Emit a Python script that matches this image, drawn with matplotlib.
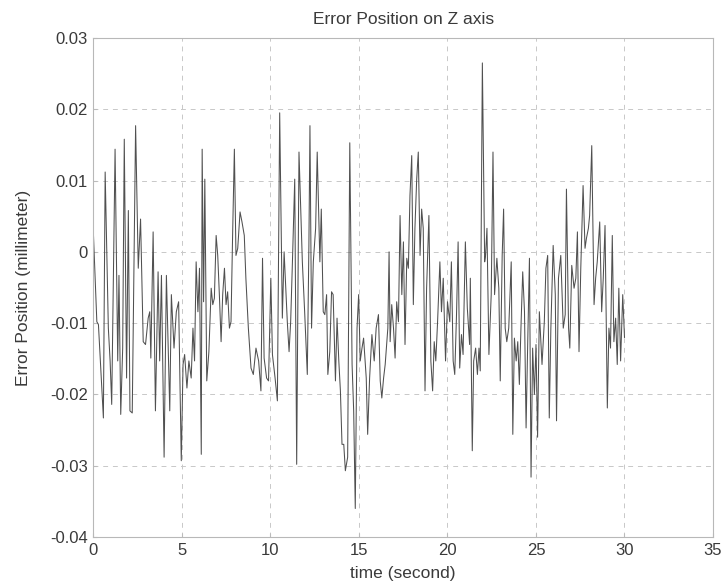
import numpy as np
import matplotlib
matplotlib.use("Agg")
import matplotlib.pyplot as plt

# time (s) and error (x 1e-3 mm)
t_sec = [
    0.00, 0.19, 0.28, 0.56, 0.66, 0.84, 0.94, 1.03, 1.22, 1.37, 1.44, 1.54, 1.65, 1.74, 1.87, 1.97,
    2.06, 2.19, 2.38, 2.53, 2.66, 2.81, 2.94, 3.09, 3.18, 3.24, 3.37, 3.50, 3.65, 3.74, 3.84, 3.99,
    4.12, 4.31, 4.40, 4.55, 4.68, 4.81, 4.96,
    5.06, 5.15, 5.28, 5.39, 5.52, 5.62, 5.71, 5.80, 5.90, 5.99, 6.09, 6.14, 6.22, 6.29, 6.40, 6.52,
    6.65, 6.74, 6.83, 6.93, 7.02, 7.12, 7.21, 7.30, 7.40, 7.49, 7.58, 7.68, 7.77, 7.86, 7.96, 8.05,
    8.15, 8.28, 8.39, 8.52, 8.61, 8.75, 8.90, 9.03, 9.18, 9.33, 9.46, 9.55, 9.64, 9.78, 9.89, 10.02,
    10.11, 10.26, 10.39, 10.52,
    10.67, 10.77, 10.95, 11.05, 11.14, 11.24, 11.37, 11.48, 11.61, 11.80, 11.93, 12.08, 12.17, 12.23,
    12.32, 12.42, 12.55, 12.64, 12.79, 12.87, 12.98, 13.07, 13.17, 13.24, 13.35, 13.45, 13.54, 13.67,
    13.76, 13.86, 13.95, 14.04, 14.14, 14.23, 14.36, 14.48, 14.61, 14.70, 14.79, 14.89, 14.98, 15.07,
    15.17, 15.26, 15.41, 15.49, 15.60, 15.73, 15.86, 15.97,
    16.10, 16.20, 16.29, 16.39, 16.48, 16.63, 16.70, 16.76, 16.85, 16.95, 17.04, 17.13, 17.23, 17.32,
    17.42, 17.51, 17.60, 17.70, 17.79, 17.88, 17.98, 18.07, 18.16, 18.26, 18.35, 18.45, 18.54, 18.63,
    18.73, 18.82, 18.95, 19.06, 19.16, 19.25, 19.34, 19.44, 19.57, 19.66, 19.76, 19.89, 20.00, 20.13,
    20.22, 20.32, 20.41, 20.51, 20.60, 20.69, 20.79, 20.88, 21.01, 21.12, 21.25,
    21.29, 21.40, 21.48, 21.59, 21.69, 21.78, 21.85, 21.97, 22.10, 22.15, 22.23, 22.34, 22.47, 22.57,
    22.66, 22.79, 22.90, 22.98, 23.09, 23.17, 23.26, 23.35, 23.46, 23.60, 23.69, 23.78, 23.88, 23.97,
    24.06, 24.16, 24.25, 24.35, 24.44, 24.53, 24.63, 24.72, 24.81, 24.91, 25.00, 25.09, 25.19, 25.34,
    25.47, 25.56, 25.66, 25.75, 25.84, 25.97, 26.09, 26.16, 26.27, 26.40, 26.54, 26.65,
    26.72, 26.84, 26.91, 27.02, 27.15, 27.25, 27.34, 27.43, 27.53, 27.66, 27.77, 27.85, 27.96, 28.03,
    28.15, 28.28, 28.37, 28.46, 28.60, 28.71, 28.80, 28.90, 29.03, 29.12, 29.21, 29.31, 29.40, 29.50,
    29.59, 29.68, 29.78, 29.90, 30.00,
]
err_e3 = [
    2.3, -9.8, -10.2, -23.3, 11.2, -10.7, -15.3, -21.4, 14.4, -15.3, -3.3, -22.8, -13.5, 15.8, -17.7, 5.8,
    -22.3, -22.6, 17.7, -2.3, 4.6, -12.6, -13.0, -9.3, -8.4, -14.9, 2.8, -22.3, -2.8, -15.3, -3.3, -28.8,
    -3.3, -22.3, -6.0, -13.5, -8.4, -7.0, -29.3,
    -15.8, -14.4, -19.1, -15.3, -17.7, -10.7, -15.3, -1.4, -8.4, -2.3, -28.4, 14.4, -7.0, 10.2, -18.1, -14.0,
    -5.1, -7.4, -6.5, 2.3, -0.5, -6.5, -12.6, -6.0, -2.3, -7.4, -5.6, -10.7, -9.8, 2.3, 14.4, -0.5,
    0.5, 5.6, 4.2, 2.3, -3.7, -10.7, -16.3, -17.2, -13.5, -15.3, -19.5, -0.9, -14.9, -17.7, -18.1, -3.7,
    -14.4, -17.7, -20.9, 19.5,
    -9.3, 0.0, -9.8, -14.0, -9.8, -1.4, 10.2, -29.8, 14.0, -1.4, -8.4, -17.2, 0.9, 17.7,
    -10.7, -1.4, 3.3, 14.0, -1.4, 6.0, -8.4, -8.8, -6.0, -17.2, -14.0, -5.6, -6.0, -18.1,
    -9.3, -15.3, -19.5, -27.0, -27.0, -30.7, -28.8, 15.3, -15.8, -22.3, -36.0, -10.7, -6.0, -15.3,
    -13.5, -12.1, -17.7, -25.6, -17.7, -11.6, -15.3, -10.7,
    -8.8, -18.1, -20.5, -17.7, -15.8, -10.7, 0.0, -12.6, -7.4, -10.7, -14.9, -7.0, -9.8, 5.1,
    -6.0, 1.4, -13.0, -0.9, -2.3, 7.9, 13.5, -7.4, 3.3, 10.2, 14.0, -0.5, 6.0, 3.3,
    -19.5, -5.1, 5.1, -15.3, -19.5, -12.6, -15.3, -9.8, -1.4, -8.4, -3.7, -15.3, -7.0, -9.8,
    -1.4, -15.3, -17.2, -8.8, 1.4, -16.3, -11.6, -14.4, 1.4, -7.9, -13.0,
    -3.7, -27.9, -15.3, -13.5, -17.2, -13.5, -16.7, 26.5, -1.4, -0.5, 3.3, -14.4, -6.0, 14.0,
    -6.0, -0.9, -5.1, -18.1, -0.5, 6.0, -10.7, -12.6, -10.7, -1.4, -25.6, -12.1, -15.3, -12.6,
    -18.6, -9.8, -2.8, -8.4, -24.7, -13.0, -0.9, -31.6, -13.5, -20.0, -13.0, -26.0, -8.4, -15.8,
    -9.8, -2.3, -0.5, -23.3, -10.7, 0.9, -6.0, -23.7, -3.7, -0.5, -10.7, -8.8,
    8.8, -10.7, -13.5, -1.9, -5.1, -3.7, 2.8, -14.0, -2.3, 9.3, 0.5, 1.9, 3.3, 5.1,
    14.9, -7.4, -3.7, -1.4, 4.2, -8.4, -3.7, 3.7, -21.9, -10.7, -13.5, 2.3, -12.6, -9.3,
    -15.8, -5.1, -15.3, -6.0, -12.0,
]

x_ticks = [0, 5, 10, 15, 20, 25, 30, 35]
y_ticks = [-0.04, -0.03, -0.02, -0.01, 0, 0.01, 0.02, 0.03]
y_tick_labels = ["-0.04", "-0.03", "-0.02", "-0.01", "0", "0.01", "0.02", "0.03"]

plt.rcParams["font.family"] = ["Liberation Sans", "DejaVu Sans"]

fig = plt.figure(figsize=(7.28, 5.88), dpi=100)
ax = fig.add_axes([0.1284, 0.0867, 0.851, 0.8487])

ax.plot(t_sec, np.array(err_e3) * 1e-3, color="#505050", linewidth=0.75)

ax.set_xlim(0, 35)
ax.set_ylim(-0.04, 0.03)
ax.set_xticks(x_ticks)
ax.set_yticks(y_ticks)
ax.set_yticklabels(y_tick_labels)
ax.tick_params(direction="in", length=3, color="#bbbbbb", labelsize=12, labelcolor="#3a3a3a")
ax.tick_params(axis="x", pad=4)
ax.tick_params(axis="y", pad=4)

ax.grid(True, linestyle=(0, (5, 5)), color="#c8c8c8", linewidth=0.7)
for s in ax.spines.values():
    s.set_color("#b8b8b8")
    s.set_linewidth(0.8)

ax.set_title("Error Position on Z axis", fontsize=12.5, color="#3a3a3a", pad=10)
ax.set_xlabel("time (second)", fontsize=12.5, color="#3a3a3a", labelpad=6)
ax.set_ylabel("Error Position (millimeter)", fontsize=12.5, color="#3a3a3a", labelpad=14)

fig.savefig("out.png", dpi=100)
plt.close(fig)
